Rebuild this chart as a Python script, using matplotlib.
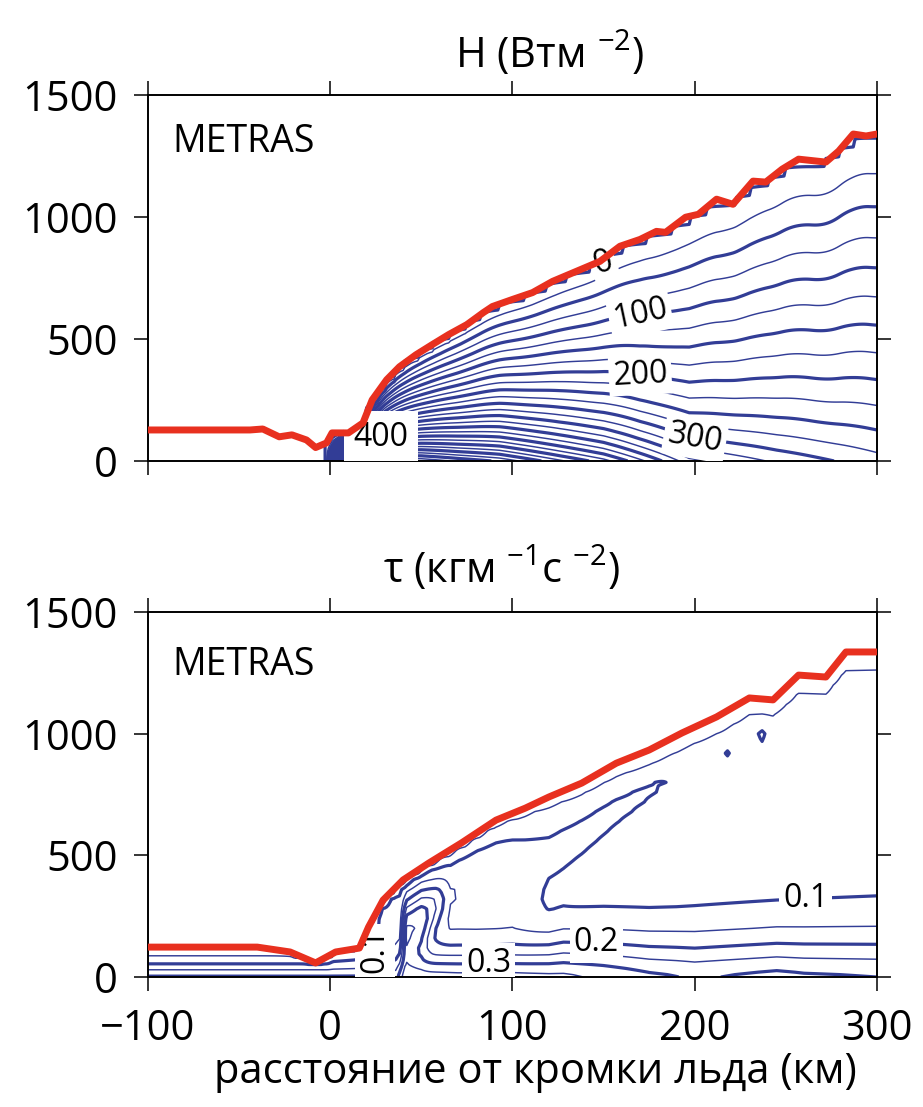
import matplotlib.pyplot as plt
import numpy as np

plt.rcParams['font.family'] = ['Open Sans', 'DejaVu Sans']
plt.rcParams['mathtext.fontset'] = 'custom'
plt.rcParams['mathtext.rm'] = 'Open Sans'
plt.rcParams['mathtext.it'] = 'Open Sans:italic'

# boundary-layer top (red line), heat-flux panel: km from ice edge / m
top_bl_x = [-100, -44, -37, -28, -21, -13, -8, -2, 1, 10, 18, 23, 31, 38, 47, 56, 65,
            75, 84, 89, 100, 111, 122, 135, 148, 159, 170, 179, 184, 195, 202, 212,
            221, 232, 239, 248, 257, 272, 279, 287, 294, 300]
top_bl_z = [127, 127, 131, 99, 107, 86, 55, 74, 115, 115, 156, 250, 333, 386, 435, 477,
            518, 559, 608, 633, 662, 690, 736, 777, 818, 880, 908, 941, 937, 999, 1011,
            1073, 1052, 1147, 1143, 1196, 1237, 1225, 1270, 1340, 1332, 1340]

# boundary-layer top, momentum-flux panel
tau_bl_x = [-100, -40, -22, -8, 3, 16, 21, 29, 40, 54, 72, 91, 107, 120, 138, 157,
            175, 193, 212, 230, 243, 257, 272, 283, 300]
tau_bl_z = [123, 123, 103, 58, 103, 119, 205, 316, 399, 468, 551, 645, 694, 740, 797,
            879, 933, 1003, 1069, 1147, 1139, 1241, 1233, 1336, 1336]

# sensible heat flux, W m-2: mixed-layer part and extra surface-layer part
heat_x = [-100, -2.5, 0, 4, 9, 15, 30, 50, 70, 93, 126, 150, 170, 197, 245, 300]
heat_bl = [-5, -5, 120, 380, 620, 600, 550, 505, 480, 455, 400, 365, 332, 300, 290, 275]
heat_sl = [0, 0, 0, 0, 0, 40, 100, 140, 140, 140, 130, 120, 100, 60, 30, 10]

# momentum flux: surface part, its decay depth (m) and background value
tau_x = [-100, -1.5, 1.5, 20, 24, 28, 36, 41, 46, 55, 70, 100, 120, 128, 150, 175,
         190, 200, 245, 260, 300]
tau_sfc = [0.21, 0.21, 0.16, 0.14, 0.14, 0.15, 0.16, 0.28, 0.28, 0.28, 0.28, 0.29,
           0.30, 0.30, 0.28, 0.25, 0.24, 0.23, 0.25, 0.24, 0.23]
tau_depth = [70, 70, 60, 60, 60, 70, 100, 130, 130, 135, 140, 143, 160, 173, 180,
             185, 188, 190, 195, 197, 200]
tau_bg = [0.0, 0.0, 0.05, 0.07, 0.085, 0.115, 0.12, 0.10, 0.10, 0.095, 0.09, 0.08,
          0.065, 0.065, 0.065, 0.065, 0.066, 0.068, 0.07, 0.072, 0.075]

# elevated momentum-flux maximum (centre and width as fraction of BL depth)
jet_x = [38, 42, 50, 58, 66, 80, 100, 120, 150, 175, 190, 205, 214, 218, 222, 230,
         237, 242, 250]
jet_amp = [0, 0.22, 0.22, 0.15, 0.06, 0.05, 0.05, 0.05, 0.055, 0.05, 0.036, 0.02,
           0.025, 0.045, 0.02, 0.02, 0.05, 0.02, 0.0]
jet_s = [0.5, 0.5, 0.55, 0.62, 0.66, 0.65, 0.6, 0.68, 0.76, 0.82, 0.84, 0.84, 0.84,
         0.84, 0.85, 0.86, 0.87, 0.87, 0.87]
jet_w = [0.3, 0.3, 0.28, 0.22, 0.2, 0.25, 0.3, 0.2, 0.12, 0.07, 0.05, 0.05, 0.04,
         0.04, 0.04, 0.05, 0.05, 0.05, 0.05]

heat_thin = [25, 75, 125, 175, 225, 275, 325, 375, 425, 475, 525, 575, 625, 675, 725]
heat_thick = [0, 50, 100, 150, 200, 250, 300, 350, 400, 450, 500, 550, 600, 650, 700]
tau_thin = [0.05, 0.15, 0.25, 0.35, 0.45]
tau_thick = [0.1, 0.2, 0.3, 0.4]

# labelled contours: level, label position (km, m), text angle
heat_lab = [(0, (150, 790), 20), (100, (170, 600), 12), (200, (170, 350), 3),
            (300, (200, 80), -10), (400, (30, 60), 0)]
tau_lab = [(0.1, (261, 325), 0), (0.2, (146, 145), 0), (0.3, (87, 38), 0),
           (0.1, (24, 110), 90)]

# model grid: 1 km across, stretched in the vertical (finer near the surface)
xg = np.arange(-100, 300.5, 1.0)
zg = np.r_[0, 10, 20, 35, 50, 70, 95, np.arange(120, 1541, 40.0)]
X, Z = np.meshgrid(xg, zg)

# heat flux field, scaled with a running mean of the BL depth;
# weak downward flux in the inversion above
h1 = np.interp(xg, top_bl_x, top_bl_z)
h1 = np.convolve(np.pad(h1, 8, mode='edge'), np.ones(17) / 17, mode='valid')
s1 = Z / h1
ml = np.interp(xg, heat_x, heat_bl) * np.clip(1 - s1, 0, None) ** 1.13
sl = np.interp(xg, heat_x, heat_sl) * np.exp(-Z / 150.0)
heat = np.where(s1 < 1, ml + sl, -25.0)

# momentum flux field
h2 = np.interp(xg, tau_bl_x, tau_bl_z)
s2 = Z / h2
taper = 1 - np.exp(-np.clip(1 - s2, 0, None) / 0.04)
sfc = np.interp(xg, tau_x, tau_sfc) * np.exp(-(Z / np.interp(xg, tau_x, tau_depth)) ** 1.4)
jet = np.interp(xg, jet_x, jet_amp) * np.exp(
    -((s2 - np.interp(xg, jet_x, jet_s)) / np.interp(xg, jet_x, jet_w)) ** 2)
tau = np.where(s2 < 1, taper * (sfc + np.interp(xg, tau_x, tau_bg) + jet), 0) - 0.005

blue = '#323d96'
red = '#e8301f'
thin_lw, thick_lw = 1.05, 2.3

fig = plt.figure(figsize=(9.23, 11.07), dpi=100)
ax1 = fig.add_axes([0.1603, 0.5836, 0.7898, 0.3306])
ax2 = fig.add_axes([0.1603, 0.1174, 0.7898, 0.3297])


def put_labels(ax, field, labels, fmt):
    for lev, pos, rot in labels:
        cl = ax.contour(X, Z, field, levels=[lev], colors=blue, linewidths=0)
        texts = cl.clabel(manual=[pos], inline=False, fmt=fmt, fontsize=23,
                          colors='k', zorder=5)
        pad = 0.3 if lev == 400 else 0.12
        for t in texts:
            t.set_rotation(rot)
            t.set_bbox(dict(boxstyle='square,pad=%g' % pad, fc='white', ec='none'))
            t.set_zorder(5)


# upper panel: sensible heat flux
ax1.contour(X, Z, heat, levels=heat_thin, colors=blue, linewidths=thin_lw, zorder=2)
ax1.contour(X, Z, heat, levels=heat_thick, colors=blue, linewidths=thick_lw, zorder=2)
put_labels(ax1, heat, heat_lab, '%d')
ax1.plot(top_bl_x, top_bl_z, color=red, lw=5, zorder=6)
ax1.text(0.034, 0.845, 'METRAS', transform=ax1.transAxes, fontsize=27, va='baseline')

# lower panel: momentum flux
ax2.contour(X, Z, tau, levels=tau_thin, colors=blue, linewidths=thin_lw, zorder=2)
ax2.contour(X, Z, tau, levels=tau_thick, colors=blue, linewidths=thick_lw, zorder=2)
put_labels(ax2, tau, tau_lab, '%.1f')
ax2.plot(tau_bl_x, tau_bl_z, color=red, lw=5, zorder=6)
ax2.text(0.034, 0.827, 'METRAS', transform=ax2.transAxes, fontsize=27, va='baseline')

for ax in (ax1, ax2):
    ax.set_xlim(-100, 300)
    ax.set_ylim(0, 1500)
    ax.set_xticks([-100, 0, 100, 200, 300])
    ax.set_yticks([0, 500, 1000, 1500])
    ax.tick_params(direction='out', length=10, width=1.1, top=True, right=True,
                   labelsize=30, pad=12)
    for sp in ax.spines.values():
        sp.set_linewidth(1.4)
ax1.tick_params(labelbottom=False)

fig.text(0.595, 0.9386, r'H (Втм $^{-2}$)', ha='center', va='baseline', fontsize=30)
fig.text(0.543, 0.4734, r'τ (кгм $^{-1}$с $^{-2}$)', ha='center', va='baseline', fontsize=30)
fig.text(0.58, 0.0217, 'расстояние от кромки льда (км)', ha='center', va='baseline',
         fontsize=30)

fig.savefig('out.png', dpi=100)
